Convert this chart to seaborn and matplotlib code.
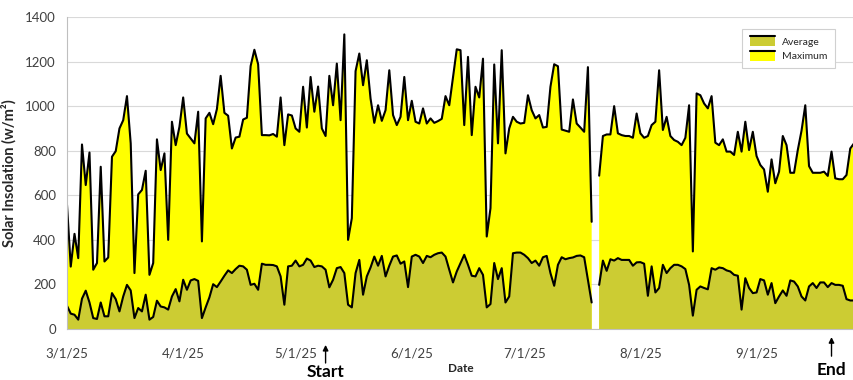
import numpy as np
import pandas as pd
import matplotlib
matplotlib.use("Agg")
import matplotlib.pyplot as plt
import matplotlib.dates as mdates
from matplotlib.patches import Rectangle, Patch
from matplotlib.lines import Line2D
from matplotlib.legend_handler import HandlerBase
from matplotlib.ticker import MultipleLocator
import seaborn as sns

# Daily solar insolation, 1 Mar 2025 – 27 Sep 2025 (w/m²); NaN = no record
start_date = "2025-03-01"
maximum = [
    557, 280, 427, 318, 828, 646, 792, 266, 296, 728,
    303, 321, 773, 798, 900, 937, 1045, 833, 251, 604,
    624, 710, 243, 296, 851, 713, 788, 400, 930, 825,
    907, 1039, 877, 855, 833, 975, 393, 945, 970, 919,
    987, 1136, 970, 957, 810, 859, 863, 940, 948, 1180,
    1253, 1188, 870, 870, 869, 875, 863, 1039, 825, 963,
    958, 900, 885, 1087, 904, 1131, 975, 1088, 900, 866,
    1136, 1004, 1191, 937, 1322, 400, 497, 1157, 1236, 1094,
    1206, 1034, 925, 1004, 934, 982, 1161, 960, 915, 952,
    1131, 937, 1024, 930, 922, 990, 922, 945, 925, 933,
    943, 1045, 1004, 1131, 1255, 1251, 915, 1221, 870, 1087,
    1039, 1213, 415, 542, 1187, 833, 1251, 788, 900, 952,
    930, 922, 925, 1049, 982, 945, 960, 904, 907, 1087,
    1188, 1179, 895, 890, 885, 1030, 922, 904, 885, 1175,
    481, np.nan, 688, 866, 873, 873, 1000, 878, 870, 866,
    866, 858, 967, 878, 858, 866, 915, 930, 1161, 893,
    952, 866, 848, 840, 825, 858, 1004, 348, 1057, 1049,
    1012, 990, 1045, 836, 825, 851, 796, 796, 781, 885,
    796, 930, 803, 885, 776, 736, 716, 616, 761, 654,
    706, 866, 825, 701, 701, 803, 890, 1004, 731, 701,
    701, 701, 706, 687, 796, 676, 672, 672, 691, 810,
    833,
]
average = [
    104, 69, 64, 42, 136, 172, 119, 49, 45, 119,
    57, 57, 161, 134, 79, 146, 198, 173, 49, 94,
    79, 154, 42, 54, 127, 101, 97, 87, 146, 179,
    124, 221, 176, 218, 224, 216, 49, 97, 142, 201,
    188, 213, 239, 263, 251, 269, 284, 281, 266, 198,
    203, 176, 293, 288, 288, 287, 281, 236, 109, 281,
    284, 307, 281, 288, 316, 307, 278, 284, 281, 266,
    187, 221, 273, 278, 251, 109, 97, 251, 310, 154,
    236, 276, 325, 284, 328, 236, 284, 325, 330, 293,
    303, 188, 325, 333, 325, 296, 328, 322, 333, 340,
    343, 325, 266, 209, 258, 296, 333, 288, 239, 236,
    273, 243, 97, 112, 296, 224, 273, 119, 146, 340,
    343, 343, 333, 318, 296, 307, 284, 322, 328, 251,
    194, 288, 322, 313, 318, 321, 328, 330, 322, 221,
    119, np.nan, 198, 307, 261, 313, 307, 318, 310, 310,
    310, 284, 299, 300, 293, 149, 281, 164, 184, 288,
    251, 273, 288, 288, 281, 269, 198, 60, 176, 191,
    184, 178, 273, 266, 276, 273, 263, 258, 243, 239,
    87, 228, 184, 161, 164, 224, 218, 154, 206, 116,
    146, 173, 149, 218, 213, 191, 146, 128, 191, 206,
    184, 209, 209, 188, 206, 198, 198, 194, 134, 128,
    128,
]
month_ticks = ["2025-03-01", "2025-04-01", "2025-05-01", "2025-06-01",
               "2025-07-01", "2025-08-01", "2025-09-01"]
month_labels = ["3/1/25", "4/1/25", "5/1/25", "6/1/25", "7/1/25", "8/1/25", "9/1/25"]
start_day = "2025-05-09"
end_day = "2025-09-21"

MAX_COLOR = "#FFFF00"
AVG_COLOR = "#CCCC33"

dates = pd.date_range(start_date, periods=len(maximum), freq="D")
df = pd.DataFrame({"Date": dates, "Maximum": maximum, "Average": average})
# separate runs of valid days so lines break across missing records
df["segment"] = df["Maximum"].isna().cumsum()
valid = df.dropna().copy()

sns.set_theme(style="white")
plt.rcParams["font.family"] = ["Lato", "DejaVu Sans"]

fig = plt.figure(figsize=(8.54, 3.80), dpi=100)
ax = fig.add_axes([67 / 854, 1 - 329 / 380, 787 / 854, 312 / 380])

ax.fill_between(df["Date"], 0, df["Maximum"], color=MAX_COLOR, lw=0, zorder=2)
ax.fill_between(df["Date"], 0, df["Average"], color=AVG_COLOR, lw=0, zorder=3)
sns.lineplot(data=valid, x="Date", y="Maximum", units="segment", estimator=None,
             color="black", lw=1.5, ax=ax, zorder=4, legend=False)
sns.lineplot(data=valid, x="Date", y="Average", units="segment", estimator=None,
             color="black", lw=1.5, ax=ax, zorder=5, legend=False)

ax.set_xlim(dates[0], dates[-1])
ax.set_ylim(0, 1400)
ax.yaxis.set_major_locator(MultipleLocator(200))
ax.yaxis.set_minor_locator(MultipleLocator(100))
ax.set_xticks(pd.to_datetime(month_ticks))
ax.set_xticklabels(month_labels)
ax.grid(axis="y", which="major", color="#d9d9d9", lw=0.8, zorder=0)
ax.set_axisbelow(True)

for side in ("top", "right"):
    ax.spines[side].set_visible(False)
for side in ("left", "bottom"):
    ax.spines[side].set_color("#bfbfbf")
    ax.spines[side].set_linewidth(0.8)
    ax.spines[side].set_zorder(6)

ax.tick_params(axis="both", which="both", direction="out", color="#bfbfbf",
               labelcolor="#404040", labelsize=9.5, length=5, width=0.8)
ax.tick_params(axis="x", pad=8)
ax.tick_params(axis="y", pad=3)

ax.set_xlabel("Date", fontsize=8.5, fontweight="bold", color="#262626", labelpad=3)
ax.set_ylabel("Solar Insolation (w/m²)", fontsize=10.5, fontweight="bold",
              color="#262626", labelpad=6)


class TopLineHandler(HandlerBase):
    """Filled swatch with a black edge line along its top."""

    def create_artists(self, legend, orig_handle, xdescent, ydescent,
                       width, height, fontsize, trans):
        rect = Rectangle((-xdescent, -ydescent), width, height,
                         facecolor=orig_handle.get_facecolor(), edgecolor="none",
                         transform=trans)
        top = -ydescent + height
        line = Line2D([-xdescent, -xdescent + width], [top, top],
                      color="black", lw=1.5, transform=trans)
        return [rect, line]


handles = [Patch(facecolor=AVG_COLOR, label="Average"),
           Patch(facecolor=MAX_COLOR, label="Maximum")]
leg = ax.legend(handles=handles, handler_map={Patch: TopLineHandler()},
                loc="upper right", bbox_to_anchor=(0.982, 0.978),
                fontsize=7.5, frameon=True, fancybox=False, framealpha=1,
                edgecolor="#d0d0d0", handlelength=2.4, handleheight=1.1,
                handletextpad=0.7, borderpad=0.7, labelspacing=0.35)
leg.get_frame().set_linewidth(0.8)
leg.set_zorder(10)

# Period markers below the date axis: (label, day, arrow tip, arrow tail, text centre)
xaxis_tr = ax.get_xaxis_transform()
markers = [("Start", start_day, -0.051, -0.109, -0.139),
           ("End", end_day, -0.026, -0.087, -0.132)]
for label, day, tip, tail, text_y in markers:
    x = mdates.date2num(pd.Timestamp(day))
    ax.annotate("", xy=(x, tip), xytext=(x, tail),
                xycoords=xaxis_tr, textcoords=xaxis_tr,
                arrowprops=dict(arrowstyle="-|>", color="black", lw=1,
                                mutation_scale=8, shrinkA=0, shrinkB=0),
                annotation_clip=False)
    ax.text(x, text_y, label, transform=xaxis_tr,
            ha="center", va="center", fontsize=12.5, fontweight="bold",
            color="black", clip_on=False)

fig.savefig("out.png", dpi=100)
